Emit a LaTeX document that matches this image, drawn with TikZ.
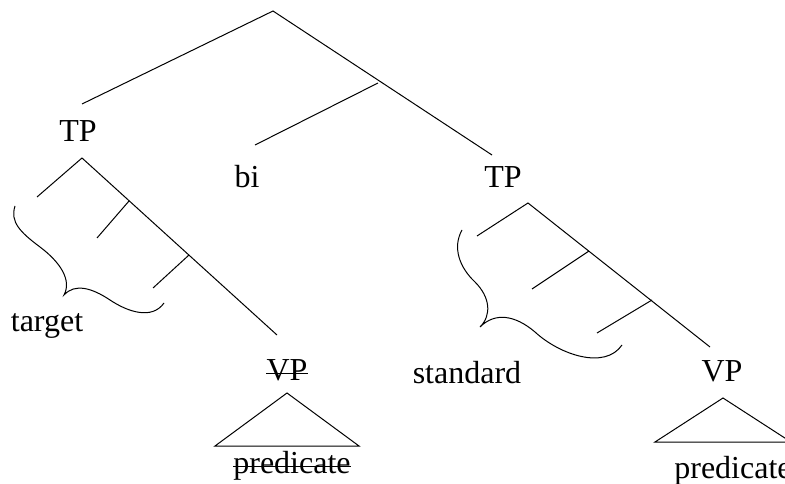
\documentclass[tikz,border=0pt]{standalone}
\usepackage{fontspec}
\setmainfont{Liberation Serif}
\begin{document}
\begin{tikzpicture}[x=1pt,y=-1pt,
  branch/.style={draw=black,line width=1pt},
  lbl/.style={inner sep=0pt,anchor=base,font=\fontsize{32}{36}\selectfont},
  strike/.style={draw=black,line width=1pt}]
\useasboundingbox (0,0) rectangle (785,484);
\clip (0,0) rectangle (785,484);
% coordinates of the tree
\coordinate (root) at (273,11);
\coordinate (tpLtop) at (82,104);
\coordinate (mid) at (378,83);
\coordinate (biTop) at (255,145);
\coordinate (tpRtop) at (492,155);
\coordinate (aL) at (82,158);
\coordinate (aLl) at (37,197);
\coordinate (aLend) at (277,335);
\coordinate (b1) at (129,201);
\coordinate (b1e) at (97,238);
\coordinate (b2) at (189,255);
\coordinate (b2e) at (153,288);
\coordinate (aR) at (528,203);
\coordinate (aRl) at (477,236);
\coordinate (aRend) at (710,347);
\coordinate (c1) at (589,251);
\coordinate (c1e) at (532,289);
\coordinate (c2) at (652,300);
\coordinate (c2e) at (597,333);
\coordinate (triLa) at (287,393);
\coordinate (triLb) at (215,446);
\coordinate (triLc) at (359,446);
\coordinate (triRa) at (723,398);
\coordinate (triRb) at (655,442);
\coordinate (triRc) at (791,442);
% labels
\node[lbl] (tpL) at (78,142) {TP};
\node[lbl] (bi) at (247,188) {bi};
\node[lbl] (tpR) at (503,188) {TP};
\node[lbl] (target) at (47,331) {target};
\node[lbl] (standard) at (467,383) {standard};
\node[lbl] (vpL) at (287,380) {VP};
\node[lbl] (vpR) at (722,381) {VP};
\node[lbl] (predL) at (292,473) {predicate};
\node[lbl] (predR) at (733,478) {predicate};
% top tree
\draw[branch] (tpLtop) -- (root) -- (tpRtop);
\draw[branch] (mid) -- (biTop);
% left TP subtree
\draw[branch] (aLl) -- (aL) -- (aLend);
\draw[branch] (b1) -- (b1e);
\draw[branch] (b2) -- (b2e);
% right TP subtree
\draw[branch] (aRl) -- (aR) -- (aRend);
\draw[branch] (c1) -- (c1e);
\draw[branch] (c2) -- (c2e);
% triangles
\draw[branch] (triLa) -- (triLb) -- (triLc) -- cycle;
\draw[branch] (triRa) -- (triRb) -- (triRc) -- cycle;
% braces
\draw[branch] (15,206) .. controls (10,222) and (20,232) .. (40,247)
  .. controls (60,262) and (72,280) .. (64,295)
  .. controls (75,283) and (92,288) .. (110,300)
  .. controls (128,312) and (152,320) .. (164,303);
\draw[branch] (462,230) .. controls (452,248) and (460,268) .. (475,282)
  .. controls (490,297) and (492,315) .. (480,327)
  .. controls (495,312) and (515,315) .. (535,332)
  .. controls (560,355) and (605,370) .. (622,345);
% strike-throughs
\draw[strike] ([yshift=7pt]vpL.base west) -- ([yshift=7pt]vpL.base east);
\draw[strike] ([yshift=7pt]predL.base west) -- ([yshift=7pt]predL.base east);
\end{tikzpicture}
\end{document}
